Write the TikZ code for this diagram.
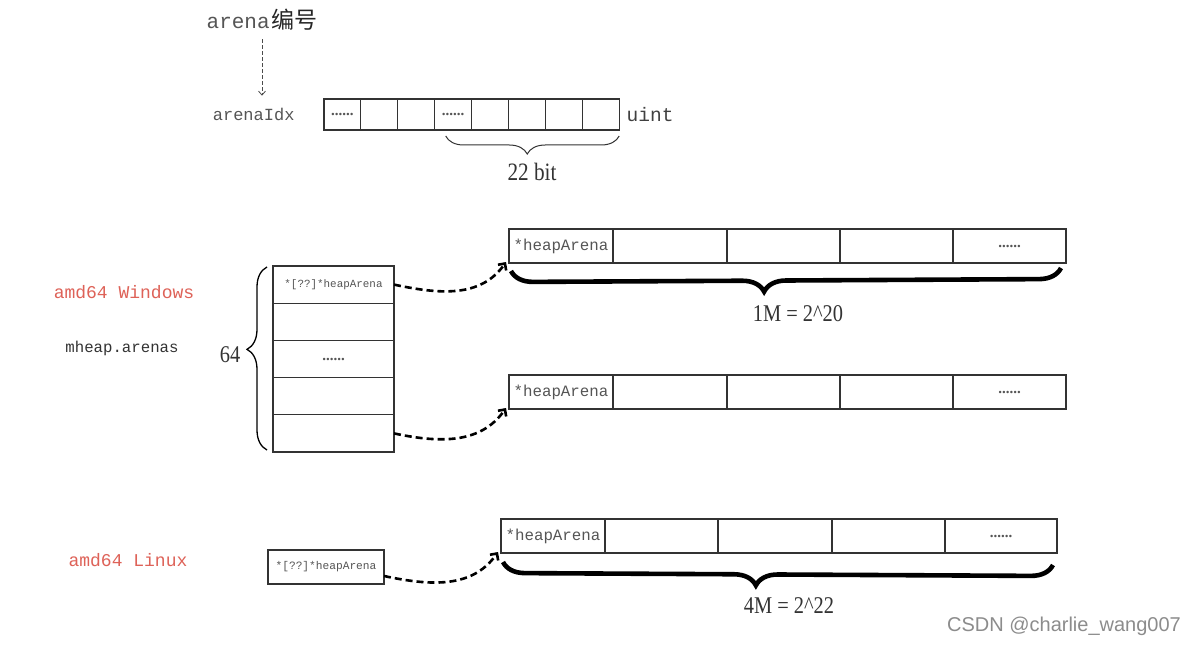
\documentclass[tikz,border=0pt]{standalone}
\usepackage{fontspec}
\setmainfont{Liberation Serif}
\newfontfamily\typefont{Liberation Mono}
\newfontfamily\cjkfont{Noto Sans CJK SC}
\newfontfamily\markfont{Liberation Sans}
\newfontfamily\narrowfont[FakeStretch=0.85]{Liberation Serif}
\usetikzlibrary{positioning,arrows.meta,decorations.pathreplacing}
\definecolor{labelred}{RGB}{222,98,88}
\definecolor{textgray}{RGB}{85,85,85}
\newcommand\sixdots{{\rmfamily\bfseries\fontsize{15}{15}\selectfont......}}

\begin{document}
\begin{tikzpicture}[x=1pt, y=-1pt,
    cell/.style={draw=black!80, line width=1.1pt, inner sep=0pt, outer sep=0pt, minimum height=34,
      font=\typefont\fontsize{15.8}{16}\selectfont, text=textgray},
    bitcell/.style={cell, minimum width=36.9, minimum height=31},
    slot/.style={cell, minimum width=121, minimum height=37.2, font=\typefont\fontsize{10.9}{11}\selectfont},
    osname/.style={font=\typefont\fontsize{18}{18}\selectfont, text=labelred},
    sizelabel/.style={font=\narrowfont\fontsize{24}{24}\selectfont, text=black!80},
    ptr/.style={line width=2.6pt, dash pattern=on 7pt off 4pt, -{Straight Barb[length=5pt,width=10pt]}},
    bigbrace/.style={decorate, decoration={brace, mirror, amplitude=22pt, aspect=#1}, line width=4.6pt}]
    \useasboundingbox (0,0) rectangle (1196,647);
    \fill[white] (0,0) rectangle (1196,647);

    % arena index bits
    \node (arenano) at (262,20) {{\typefont\fontsize{21}{21}\selectfont\color{textgray}arena}\,{\cjkfont\fontsize{23}{23}\selectfont\color{black!85}编号}};
    \node[bitcell, anchor=north west] (bit1) at (324,99) {\sixdots};
    \node[bitcell, right=0pt of bit1] (bit2) {};
    \node[bitcell, right=0pt of bit2] (bit3) {};
    \node[bitcell, right=0pt of bit3] (bit4) {\sixdots};
    \node[bitcell, right=0pt of bit4] (bit5) {};
    \node[bitcell, right=0pt of bit5] (bit6) {};
    \node[bitcell, right=0pt of bit6] (bit7) {};
    \node[bitcell, right=0pt of bit7] (bit8) {};
    \node[left=26pt of bit1, font=\typefont\fontsize{17}{17}\selectfont, text=textgray] (idx) {arenaIdx};
    \node[right=4pt of bit8, font=\typefont\fontsize{19.5}{20}\selectfont, text=black!75] (uint) {uint};
    \draw[dash pattern=on 4pt off 2pt, line width=0.8pt, black!70, -{Straight Barb[length=4pt,width=7pt]}, shorten <=5pt, shorten >=9pt]
      (arenano.south) -- (arenano.south |- idx.north);
    \draw[decorate, decoration={brace, mirror, amplitude=18pt, aspect=0.47}, line width=1pt, black!80]
      ([shift={(11,6)}]bit4.south west) -- ([shift={(0,6)}]bit8.south east);
    \node[font=\narrowfont\fontsize{25}{25}\selectfont, text=black!80] (bits) at (532,172) {22 bit};

    % amd64 Windows
    \node[osname] (win) at (124,292) {amd64 Windows};
    \node[font=\typefont\fontsize{15.7}{16}\selectfont, text=black!80] (arenas) at (122,348) {mheap.arenas};
    \node[slot, anchor=north west] (slot1) at (273,266) {*[??]*heapArena};
    \node[slot, below=0pt of slot1] (slot2) {};
    \node[slot, below=0pt of slot2] (slot3) {\sixdots};
    \node[slot, below=0pt of slot3] (slot4) {};
    \node[slot, below=0pt of slot4] (slot5) {};
    \draw[decorate, decoration={brace, amplitude=20pt, aspect=0.55}, line width=1.3pt]
      ([shift={(-6,-2)}]slot5.south west) -- ([shift={(-6,1)}]slot1.north west);
    \node[sizelabel] (count) at (230,355) {64};

    \node[cell, anchor=north west, minimum width=104] (wa1) at (509,229) {*heapArena};
    \node[cell, right=0pt of wa1, minimum width=114] (wa2) {};
    \node[cell, right=0pt of wa2, minimum width=113] (wa3) {};
    \node[cell, right=0pt of wa3, minimum width=113] (wa4) {};
    \node[cell, right=0pt of wa4, minimum width=113] (wa5) {\sixdots};
    \draw[bigbrace=0.46] ([shift={(2,8)}]wa1.south west) -- ([shift={(-5,5)}]wa5.south east);
    \node[sizelabel] (onem) at (798,314) {1M = 2\textasciicircum 20};

    \node[cell, anchor=north west, minimum width=104] (wb1) at (509,375) {*heapArena};
    \node[cell, right=0pt of wb1, minimum width=114] (wb2) {};
    \node[cell, right=0pt of wb2, minimum width=113] (wb3) {};
    \node[cell, right=0pt of wb3, minimum width=113] (wb4) {};
    \node[cell, right=0pt of wb4, minimum width=113] (wb5) {\sixdots};

    \draw[ptr] (slot1.east) to[out=-12, in=-125] ([shift={(-3,-1)}]wa1.south west);
    \draw[ptr] (slot5.east) to[out=-12, in=-125] ([shift={(-3,-1)}]wb1.south west);

    % amd64 Linux
    \node[osname] (linux) at (128,560) {amd64 Linux};
    \node[cell, anchor=north west, minimum width=116, font=\typefont\fontsize{11.2}{12}\selectfont] (lbox) at (268,550) {*[??]*heapArena};
    \node[cell, anchor=north west, minimum width=104] (la1) at (501,519) {*heapArena};
    \node[cell, right=0pt of la1, minimum width=113] (la2) {};
    \node[cell, right=0pt of la2, minimum width=114] (la3) {};
    \node[cell, right=0pt of la3, minimum width=113] (la4) {};
    \node[cell, right=0pt of la4, minimum width=112] (la5) {\sixdots};
    \draw[ptr] ([shift={(0,9)}]lbox.east) to[out=-12, in=-125] ([shift={(-3,-1)}]la1.south west);
    \draw[bigbrace=0.46] ([shift={(2,9)}]la1.south west) -- ([shift={(-4,12)}]la5.south east);
    \node[sizelabel] (fourm) at (789,606) {4M = 2\textasciicircum 22};

    \node[font=\markfont\fontsize{20}{20}\selectfont, text=black!45] (mark) at (1064,626) {CSDN @charlie\_wang007};
\end{tikzpicture}
\end{document}
